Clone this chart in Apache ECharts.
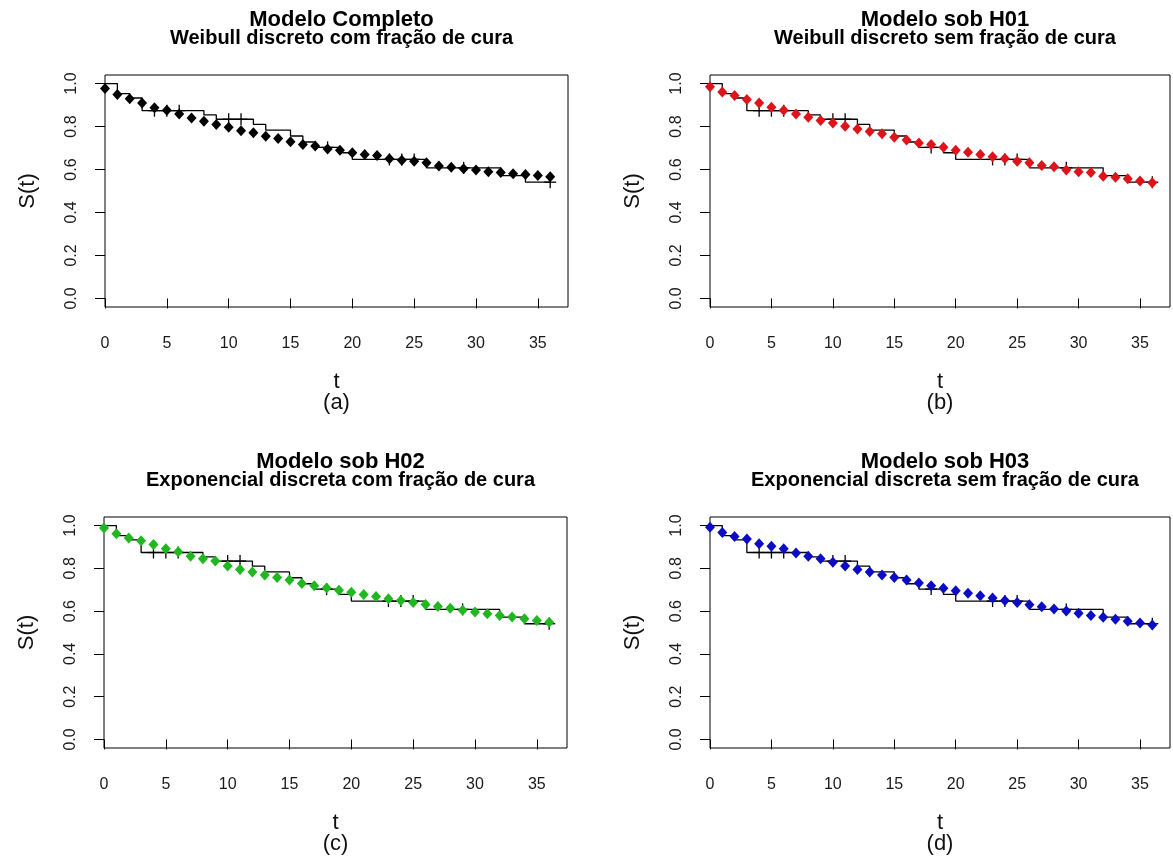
<!DOCTYPE html>
<html>
<head>
<meta charset="utf-8">
<title>Curvas de sobrevivência</title>
<script src="https://cdn.jsdelivr.net/npm/echarts@6/dist/echarts.min.js"></script>
<style>
  html, body { margin: 0; padding: 0; background: #fff; }
  #chart { width: 1173px; height: 865px; }
</style>
</head>
<body>
<div id="chart"></div>
<script>
// Kaplan-Meier estimate (step function): times where S(t) changes and the value after each change
const tKM = [0, 1, 2, 3, 8, 9, 12, 13, 15, 16, 17, 19, 20, 26, 32, 34, 36];
const sKM = [1.000, 0.953, 0.933, 0.874, 0.854, 0.834, 0.810, 0.783, 0.756, 0.728, 0.703, 0.678, 0.647, 0.608, 0.572, 0.541, 0.541];
// censored times (marked with "+")
const tCensura = [4, 5, 6, 10, 11, 18, 23, 24, 25, 29, 36];

// time grid of the fitted models
const tempo = [0, 1, 2, 3, 4, 5, 6, 7, 8, 9, 10, 11, 12, 13, 14, 15, 16, 17, 18,
               19, 20, 21, 22, 23, 24, 25, 26, 27, 28, 29, 30, 31, 32, 33, 34, 35, 36];

// (a) Weibull discreto com fração de cura
const sWeibullCura = [0.977, 0.949, 0.929, 0.910, 0.887, 0.876, 0.859, 0.840, 0.825, 0.809,
                      0.797, 0.781, 0.771, 0.755, 0.744, 0.729, 0.716, 0.709, 0.696, 0.690,
                      0.678, 0.670, 0.665, 0.650, 0.643, 0.639, 0.631, 0.616, 0.611, 0.604,
                      0.598, 0.590, 0.586, 0.580, 0.577, 0.572, 0.566];
// (b) Weibull discreto sem fração de cura
const sWeibull = [0.985, 0.961, 0.944, 0.926, 0.910, 0.890, 0.876, 0.859, 0.843, 0.828,
                  0.817, 0.801, 0.789, 0.777, 0.766, 0.750, 0.737, 0.724, 0.716, 0.704,
                  0.690, 0.680, 0.670, 0.659, 0.651, 0.639, 0.631, 0.619, 0.613, 0.598,
                  0.590, 0.586, 0.569, 0.564, 0.557, 0.546, 0.538];
// (c) Exponencial discreta com fração de cura
const sExpCura = [0.988, 0.962, 0.942, 0.929, 0.911, 0.891, 0.878, 0.857, 0.845, 0.834,
                  0.811, 0.795, 0.783, 0.769, 0.757, 0.745, 0.729, 0.718, 0.708, 0.698,
                  0.688, 0.678, 0.668, 0.658, 0.650, 0.640, 0.631, 0.622, 0.613, 0.604,
                  0.596, 0.588, 0.580, 0.572, 0.564, 0.556, 0.548];
// (d) Exponencial discreta sem fração de cura
const sExp = [0.992, 0.968, 0.949, 0.937, 0.915, 0.903, 0.891, 0.872, 0.857, 0.845,
              0.829, 0.811, 0.795, 0.783, 0.769, 0.757, 0.745, 0.731, 0.719, 0.707,
              0.695, 0.684, 0.672, 0.661, 0.650, 0.640, 0.630, 0.620, 0.610, 0.600,
              0.590, 0.580, 0.571, 0.562, 0.553, 0.544, 0.535];

const xTicks = [0, 5, 10, 15, 20, 25, 30, 35];
const yTicks = [0, 0.2, 0.4, 0.6, 0.8, 1.0];

const paineis = [
  { modelo: 'Modelo Completo', descricao: 'Weibull discreto com fração de cura', rotulo: '(a)', valores: sWeibullCura, cor: '#000000' },
  { modelo: 'Modelo sob H01', descricao: 'Weibull discreto sem fração de cura', rotulo: '(b)', valores: sWeibull, cor: '#e0121a' },
  { modelo: 'Modelo sob H02', descricao: 'Exponencial discreta com fração de cura', rotulo: '(c)', valores: sExpCura, cor: '#1fb81f' },
  { modelo: 'Modelo sob H03', descricao: 'Exponencial discreta sem fração de cura', rotulo: '(d)', valores: sExp, cor: '#0c0cc4' }
];

// plot boxes of the 2x2 layout
const caixas = [
  { left: 105, top: 75, width: 463, height: 232 },
  { left: 710, top: 75, width: 460, height: 232 },
  { left: 104, top: 517, width: 463, height: 231 },
  { left: 710, top: 517, width: 460, height: 231 }
];

const FONTE = '"Liberation Sans", Arial, sans-serif';

// value of the KM step function at time t
function kmEm(t) {
  let s = sKM[0];
  for (let i = 0; i < tKM.length; i++) { if (tKM[i] <= t) s = sKM[i]; }
  return s;
}

const kmDados = tKM.map((t, i) => [t, sKM[i]]);
const censDados = tCensura.map(t => [t, kmEm(t)]);

const grids = [], xAxes = [], yAxes = [], series = [], titles = [];

caixas.forEach((c, i) => {
  const p = paineis[i];
  grids.push({ left: c.left, top: c.top, width: c.width, height: c.height,
               show: true, borderColor: '#000', borderWidth: 1, backgroundColor: 'transparent' });
  titles.push({
    text: '{m|' + p.modelo + '}\n{d|' + p.descricao + '}',
    left: c.left + c.width / 2,
    top: c.top - 70,
    textAlign: 'center',
    textStyle: {
      fontFamily: FONTE, fontWeight: 'bold', color: '#000',
      rich: {
        m: { fontFamily: FONTE, fontSize: 22, fontWeight: 'bold', color: '#000', lineHeight: 19, align: 'center' },
        d: { fontFamily: FONTE, fontSize: 20, fontWeight: 'bold', color: '#000', lineHeight: 19, align: 'center' }
      }
    }
  });
  xAxes.push({
    gridIndex: i, type: 'value', min: 0, max: 37.44,
    axisLine: { show: false },
    splitLine: { show: false },
    axisTick: { show: true, inside: false, length: 10, lineStyle: { color: '#000', width: 1 }, customValues: xTicks },
    axisLabel: { customValues: xTicks, margin: 29, fontFamily: FONTE, fontSize: 16, color: '#1a1a1a' },
    name: 't\n' + p.rotulo, nameLocation: 'middle', nameGap: 64,
    nameTextStyle: { fontFamily: FONTE, fontSize: 22, color: '#111', lineHeight: 21 }
  });
  yAxes.push({
    gridIndex: i, type: 'value', min: -0.04, max: 1.04,
    axisLine: { show: false },
    splitLine: { show: false },
    axisTick: { show: true, inside: false, length: 10, lineStyle: { color: '#000', width: 1 }, customValues: yTicks },
    axisLabel: { customValues: yTicks, rotate: 90, margin: 25, fontFamily: FONTE, fontSize: 16, color: '#1a1a1a',
                 formatter: v => v.toFixed(1) },
    name: 'S(t)', nameLocation: 'middle', nameRotate: 90, nameGap: 66,
    nameTextStyle: { fontFamily: FONTE, fontSize: 22, color: '#111' }
  });
  // KM step curve
  series.push({
    type: 'line', xAxisIndex: i, yAxisIndex: i, data: kmDados, step: 'end',
    symbol: 'none', lineStyle: { color: '#000', width: 1.3 }, z: 2, silent: true
  });
  // censoring marks
  series.push({
    type: 'custom', xAxisIndex: i, yAxisIndex: i, coordinateSystem: 'cartesian2d',
    data: censDados, encode: { x: 0, y: 1 }, z: 3, silent: true,
    renderItem: (params, api) => {
      const pt = api.coord([api.value(0), api.value(1)]);
      const st = { stroke: '#000', lineWidth: 1.3 };
      return { type: 'group', children: [
        { type: 'line', shape: { x1: pt[0], y1: pt[1] - 6, x2: pt[0], y2: pt[1] + 6 }, style: st },
        { type: 'line', shape: { x1: pt[0] - 6, y1: pt[1], x2: pt[0] + 6, y2: pt[1] }, style: st }
      ] };
    }
  });
  // fitted model
  series.push({
    type: 'scatter', xAxisIndex: i, yAxisIndex: i,
    data: tempo.map((t, k) => [t, p.valores[k]]),
    symbol: 'diamond', symbolSize: [10, 11],
    itemStyle: { color: p.cor, opacity: 1 }, z: 4, silent: true
  });
});

const chart = echarts.init(document.getElementById('chart'), null, { renderer: 'canvas' });
chart.setOption({
  animation: false,
  backgroundColor: '#fff',
  title: titles,
  grid: grids,
  xAxis: xAxes,
  yAxis: yAxes,
  series: series
});
</script>
</body>
</html>
